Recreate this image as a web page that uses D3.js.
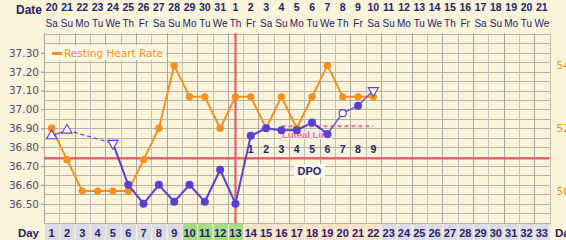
<!DOCTYPE html>
<html>
<head>
<meta charset="utf-8">
<script src="https://cdn.jsdelivr.net/npm/d3@7"></script>
<style>
  body { margin: 0; background: #f9f4da; }
  svg { display: block; }
  text { font-family: "Liberation Sans", Arial, sans-serif; }
</style>
</head>
<body>
<svg id="chart" width="566" height="240"></svg>
<script>
// chart data
const days = d3.range(1, 34)
const dates = [20, 21, 22, 23, 24, 25, 26, 27, 28, 29, 30, 31, 1, 2, 3, 4, 5, 6, 7, 8, 9, 10, 11, 12, 13, 14, 15, 16, 17, 18, 19, 20, 21]
const weekdays = ["Sa", "Su", "Mo", "Tu", "We", "Th", "Fr", "Sa", "Su", "Mo", "Tu", "We", "Th", "Fr", "Sa", "Su", "Mo", "Tu", "We", "Th", "Fr", "Sa", "Su", "Mo", "Tu", "We", "Th", "Fr", "Sa", "Su", "Mo", "Tu", "We"]
const tempDays = [1, 2, 5, 6, 7, 8, 9, 10, 11, 12, 13, 14, 15, 16, 17, 18, 19, 20, 21, 22]
const temps = [36.86, 36.89, 36.82, 36.60, 36.50, 36.60, 36.51, 36.60, 36.51, 36.68, 36.50, 36.86, 36.90, 36.89, 36.89, 36.93, 36.87, 36.98, 37.02, 37.10]
const tempMarks = ["up", "up", "down", "dot", "dot", "dot", "dot", "dot", "dot", "dot", "dot", "dot", "dot", "dot", "dot", "dot", "dot", "open", "dot", "down"]
const rhrDays = d3.range(1, 23)
const rhr = [52, 51, 50, 50, 50, 50, 51, 52, 54, 53, 53, 52, 53, 53, 52, 53, 52, 53, 54, 53, 53, 53]
const tempTicks = [36.5, 36.6, 36.7, 36.8, 36.9, 37.0, 37.1, 37.2, 37.3]
const rhrTicks = [50, 52, 54]
const coverline = 36.74
const lutealLine = 36.91
const lutealFrom = 16, lutealTo = 22
const ovulationDay = 13
const dpoDays = d3.range(14, 23)
const fertileDays = [10, 11, 12, 13]
const lutealDays = d3.range(14, 23)

const svg = d3.select("#chart")
const pLeft = 44, pRight = 549.5, pTop = 34, pBottom = 222.5

const x = d3.scaleBand().domain(days).range([pLeft, pRight])
const y = d3.scaleLinear().domain([36.4, 37.4]).range([pBottom, pTop])
const yR = d3.scaleLinear().domain([49, 55]).range([pBottom, pTop])
const cx = d => x(d) + x.bandwidth() / 2

const navy = "#25236b", orange = "#f7901e", blue = "#5a3fd3", red = "#e0606a"
const sans = "'DejaVu Sans', sans-serif"

// grid
const g = svg.append("g")
g.selectAll(".hg").data(d3.range(0, 21)).enter().append("line")
  .attr("x1", pLeft).attr("x2", pRight)
  .attr("y1", i => Math.round(y(36.4 + i * 0.05)) + 0.5)
  .attr("y2", i => Math.round(y(36.4 + i * 0.05)) + 0.5)
  .attr("stroke", "#b3b1aa").attr("stroke-width", 1)
g.selectAll(".vg").data(d3.range(0, 34)).enter().append("line")
  .attr("x1", i => Math.round(pLeft + i * x.step()) + 0.5)
  .attr("x2", i => Math.round(pLeft + i * x.step()) + 0.5)
  .attr("y1", pTop - 1).attr("y2", pBottom + 1.5)
  .attr("stroke", i => i % 2 ? "#c2c0b8" : "#a9a7a2").attr("stroke-width", 1)

// temp axis
svg.append("g")
  .attr("transform", "translate(" + pLeft + ",0)")
  .call(d3.axisLeft(y).tickValues(tempTicks).tickFormat(d3.format(".2f")).tickSize(3).tickPadding(2))
  .call(a => a.select(".domain").remove())
  .call(a => a.selectAll("line").attr("stroke", "#8a8a9a"))
  .call(a => a.selectAll("text").attr("fill", "#4b4a78").style("font-size", "10.5px").style("font-family", sans))

// rhr axis
svg.append("g")
  .attr("transform", "translate(" + (pRight + 6) + ",0)")
  .call(d3.axisRight(yR).tickValues(rhrTicks).tickSize(0).tickPadding(1))
  .call(a => a.select(".domain").remove())
  .call(a => a.selectAll("text").attr("fill", orange).style("font-size", "10.5px").style("font-family", sans))

// header
svg.append("text").attr("x", 42).attr("y", 14).attr("text-anchor", "end")
  .attr("fill", navy).style("font-weight", "bold").style("font-size", "12px").text("Date")
svg.selectAll(".dt").data(days).enter().append("text")
  .attr("x", cx).attr("y", 11).attr("text-anchor", "middle")
  .attr("fill", navy).style("font-weight", "bold").style("font-size", "10.5px")
  .text(d => dates[d - 1])
svg.selectAll(".wd").data(days).enter().append("text")
  .attr("x", cx).attr("y", 27).attr("text-anchor", "middle")
  .attr("fill", navy).style("font-size", "10px")
  .text(d => weekdays[d - 1])

// day row
svg.selectAll(".dc").data(days).enter().append("rect")
  .attr("x", d => x(d) + 1).attr("y", 224)
  .attr("width", x.bandwidth() - 1).attr("height", 16)
  .attr("fill", d => fertileDays.includes(d) ? "#a8db88" : lutealDays.includes(d) ? "#fbe1c7" : "#dcdbe4")
svg.selectAll(".dn").data(days).enter().append("text")
  .attr("x", cx).attr("y", 236.5).attr("text-anchor", "middle")
  .attr("fill", navy).style("font-weight", "bold").style("font-size", "11px")
  .text(d => d)
svg.append("text").attr("x", 39).attr("y", 236.5).attr("text-anchor", "end")
  .attr("fill", navy).style("font-weight", "bold").style("font-size", "11.5px").text("Day")
svg.append("text").attr("x", 555).attr("y", 236.5)
  .attr("fill", navy).style("font-weight", "bold").style("font-size", "11.5px").text("Day")

// legend
svg.append("rect").attr("x", 46).attr("y", 45).attr("width", 120).attr("height", 15).attr("fill", "#fdf8e4")
svg.append("line").attr("x1", 52).attr("x2", 62).attr("y1", 53.5).attr("y2", 53.5)
  .attr("stroke", orange).attr("stroke-width", 3)
svg.append("text").attr("x", 64).attr("y", 57).attr("fill", orange)
  .style("font-size", "10.5px").style("font-family", sans).text("Resting Heart Rate")

// DPO box
svg.append("rect").attr("x", 294).attr("y", 164).attr("width", 31).attr("height", 14).attr("fill", "#fdf9e8")
svg.append("text").attr("x", 309.5).attr("y", 175).attr("text-anchor", "middle")
  .attr("fill", navy).style("font-weight", "bold").style("font-size", "11px").text("DPO")

// coverline & ovulation
svg.append("line").attr("x1", pLeft).attr("x2", pRight).attr("y1", y(coverline)).attr("y2", y(coverline))
  .attr("stroke", red).attr("stroke-width", 2.2)
svg.append("line").attr("x1", cx(ovulationDay)).attr("x2", cx(ovulationDay)).attr("y1", pTop - 1).attr("y2", pBottom + 1)
  .attr("stroke", red).attr("stroke-width", 2.2)

// dpo numbers
svg.selectAll(".dpo").data(dpoDays).enter().append("text")
  .attr("x", cx).attr("y", 153).attr("text-anchor", "middle")
  .attr("fill", navy).style("font-weight", "bold").style("font-size", "10.5px")
  .text((d, i) => i + 1)

// luteal line
svg.append("line").attr("x1", cx(lutealFrom)).attr("x2", cx(lutealTo))
  .attr("y1", y(lutealLine)).attr("y2", y(lutealLine))
  .attr("stroke", "#f36f8e").attr("stroke-width", 2).attr("stroke-dasharray", "4,3")

// resting heart rate
const rhrLine = d3.line().x((d, i) => cx(rhrDays[i])).y(d => yR(d))
svg.append("path").attr("d", rhrLine(rhr)).attr("fill", "none")
  .attr("stroke", orange).attr("stroke-width", 2)
svg.selectAll(".rp").data(rhr).enter().append("circle")
  .attr("cx", (d, i) => cx(rhrDays[i])).attr("cy", d => yR(d)).attr("r", 3.7)
  .attr("fill", orange)

// temperatures
const pts = temps.map((t, i) => ({ d: tempDays[i], t: t, m: tempMarks[i] }))
const segs = d3.pairs(pts)
svg.selectAll(".ts").data(segs).enter().append("line")
  .attr("x1", s => cx(s[0].d)).attr("y1", s => y(s[0].t))
  .attr("x2", s => cx(s[1].d)).attr("y2", s => y(s[1].t))
  .attr("stroke", blue)
  .attr("stroke-width", s => (s[0].m === "up" || s[1].m === "up" || s[0].m === "open" || s[1].m === "open" || s[1].d === 22) ? 1.2 : 2)
  .attr("stroke-dasharray", s => s[1].d - s[0].d > 1 ? "4,3" : null)

svg.append("text").attr("x", 282).attr("y", 137.5)
  .attr("fill", "#f36f8e").attr("stroke", "#fff2ee").attr("stroke-width", 2).attr("paint-order", "stroke")
  .style("font-size", "9.5px").style("font-weight", "bold").text("Luteal Line")

svg.selectAll(".tp").data(pts.filter(p => p.m === "dot" || p.m === "open")).enter().append("circle")
  .attr("cx", p => cx(p.d)).attr("cy", p => y(p.t)).attr("r", p => p.m === "open" ? 3.5 : 4)
  .attr("fill", p => p.m === "open" ? "#ffffff" : blue)
  .attr("stroke", blue).attr("stroke-width", p => p.m === "open" ? 1.2 : 0)
const tri = d3.symbol().type(d3.symbolTriangle).size(45)
svg.selectAll(".tt").data(pts.filter(p => p.m === "up" || p.m === "down")).enter().append("path")
  .attr("d", tri)
  .attr("transform", p => "translate(" + cx(p.d) + "," + y(p.t) + ")" + (p.m === "down" ? " rotate(180)" : ""))
  .attr("fill", "#fbf8ec").attr("stroke", blue).attr("stroke-width", 1.1)
</script>
</body>
</html>
